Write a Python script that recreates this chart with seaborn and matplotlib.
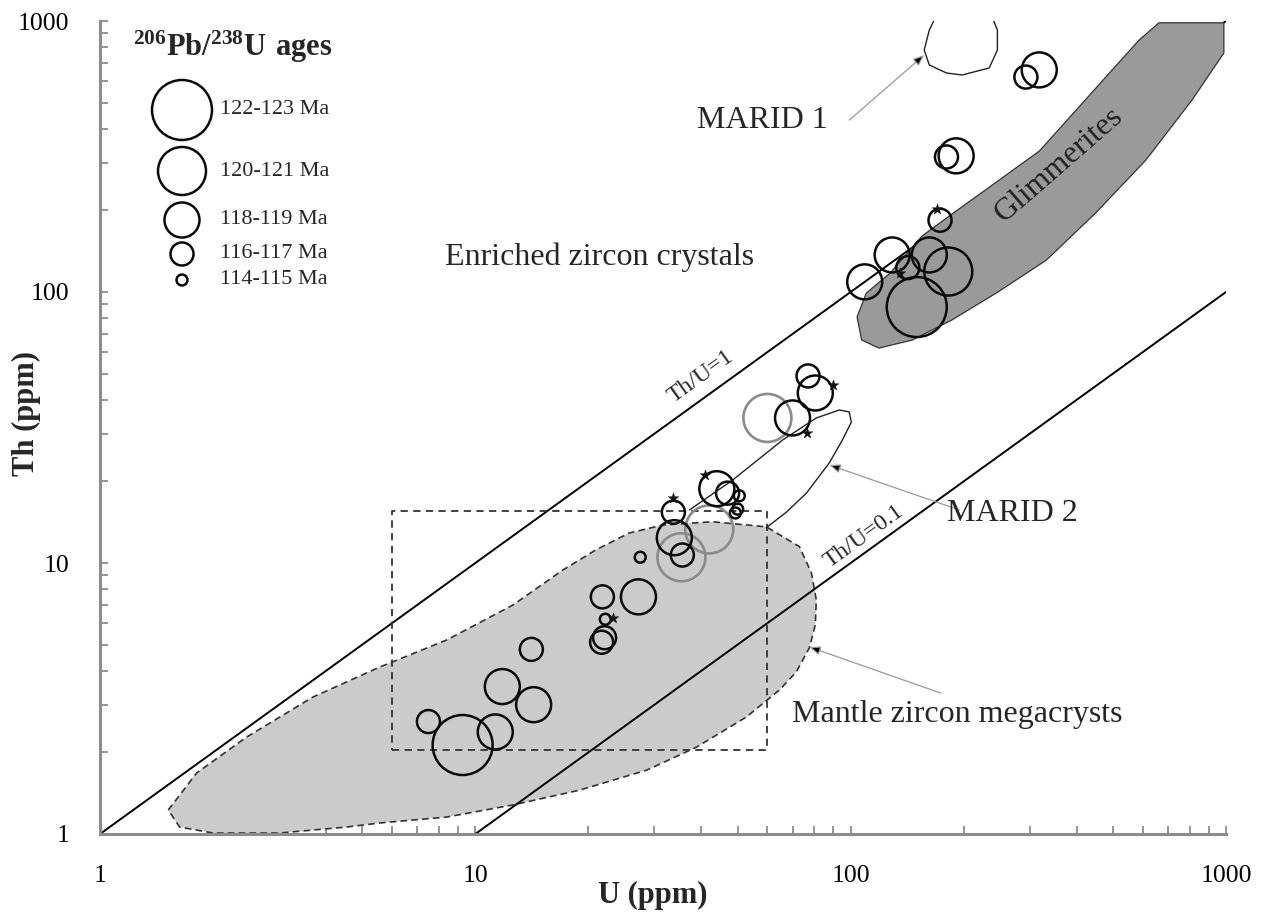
import numpy as np
import pandas as pd
import matplotlib
matplotlib.use("Agg")
import matplotlib.pyplot as plt
import seaborn as sns
from matplotlib.ticker import FixedLocator, FixedFormatter, LogLocator, NullFormatter

# ---------------- data ----------------
age_classes = ["122-123 Ma", "120-121 Ma", "118-119 Ma", "116-117 Ma", "114-115 Ma"]

u_black = [318, 293, 191, 180, 173, 129, 109, 142, 162, 182, 150,
           77, 80.5, 70, 44, 47, 50.5, 50, 49.3, 33.7, 33.9, 35.6, 27.5,
           21.8, 27.2, 22.2, 22.1, 21.7, 14.1, 11.8, 14.3, 7.5, 9.25, 11.3]
th_black = [660, 621, 318, 315, 184, 137, 109, 123, 137, 119, 88,
            49, 42.4, 34.3, 18.8, 18.1, 17.7, 15.8, 15.3, 15.4, 12.4, 10.7, 10.5,
            7.5, 7.5, 6.2, 5.3, 5.1, 4.8, 3.5, 3.0, 2.6, 2.13, 2.38]
age_black = ["118-119 Ma", "116-117 Ma", "118-119 Ma", "116-117 Ma", "116-117 Ma",
             "118-119 Ma", "118-119 Ma", "116-117 Ma", "118-119 Ma", "120-121 Ma",
             "122-123 Ma", "116-117 Ma", "118-119 Ma", "118-119 Ma", "118-119 Ma",
             "116-117 Ma", "114-115 Ma", "114-115 Ma", "114-115 Ma", "116-117 Ma",
             "118-119 Ma", "116-117 Ma", "114-115 Ma", "116-117 Ma", "118-119 Ma",
             "114-115 Ma", "116-117 Ma", "116-117 Ma", "116-117 Ma", "118-119 Ma",
             "118-119 Ma", "116-117 Ma", "122-123 Ma", "118-119 Ma"]

u_grey = [60, 42, 35.4]
th_grey = [34.3, 13.3, 10.5]
age_grey = ["120-121 Ma", "120-121 Ma", "120-121 Ma"]

u_star = [170, 135, 90, 76.6, 40.8, 33.7, 23.2]
th_star = [202, 118, 45.4, 30.2, 21.1, 17.4, 6.27]

glim_u = [663, 987, 987, 812, 612, 450, 332, 244, 186, 146, 119, 107, 104,
          110, 127, 155, 191, 244, 318, 406, 497, 587]
glim_th = [985, 985, 762, 511, 307, 196, 131, 99, 78.8, 66.5, 62.1, 66.5, 80.9,
           99, 117, 161, 199, 254, 331, 482, 659, 851]

mantle_u = [1.52, 1.81, 2.46, 3.69, 5.56, 8.39, 12.6, 17.1, 21.0, 25.7, 31.5, 42.8,
            59.6, 73.0, 78.6, 81.0, 80.5, 77.6, 71.6, 64.6, 52.7, 38.8, 28.6, 18.9,
            12.6, 8.39, 5.56, 4.54, 3.01, 2.0, 1.63]
mantle_th = [1.226, 1.68, 2.28, 3.20, 4.13, 5.20, 7.0, 9.42, 11.2, 12.9, 13.8, 14.2,
             13.6, 11.5, 9.19, 7.30, 5.91, 4.86, 3.96, 3.40, 2.70, 2.09, 1.72, 1.45,
             1.28, 1.155, 1.098, 1.061, 1.0085, 1.0085, 1.061]

marid1_u = [172, 162, 157, 162, 180, 198, 234, 246, 246, 234]
marid1_th = [1099, 926, 782, 688, 643, 632, 671, 782, 926, 1099]

marid2_u = [37.2, 48.4, 65.8, 81.0, 93.3, 99.1, 100.4, 95.0, 87.7, 76.2, 67.4, 59.6]
marid2_th = [15.7, 20.2, 28.4, 34.3, 36.7, 36.1, 33.1, 28.4, 23.4, 18.1, 15.4, 13.5]

box_u = [6.0, 60.0]
box_th = [2.04, 15.5]

thu_ratios = [1.0, 0.1]
thu_u_start = [1.0, 10.0]
thu_u_end = [1000.0, 1000.0]

tick_values = [1, 10, 100, 1000]
tick_labels = ["1", "10", "100", "1000"]

# ---------------- style ----------------
sns.set_theme(style="white")
plt.rcParams["font.family"] = ["Liberation Serif", "DejaVu Serif"]
plt.rcParams["mathtext.fontset"] = "custom"
plt.rcParams["mathtext.rm"] = "Liberation Serif"
plt.rcParams["mathtext.bf"] = "Liberation Serif:bold"

size_map = dict(zip(age_classes, [1866, 1194, 635, 275, 62]))

fig = plt.figure(figsize=(12.61, 9.17), dpi=100)
ax = fig.add_axes([100 / 1261, 1 - 834 / 917, 1126 / 1261, 813 / 917])
ax.set_xscale("log")
ax.set_yscale("log")

# Mantle zircon megacrysts field
ax.fill(mantle_u, mantle_th, fc="#cbcbcb", ec="#333333", lw=1.2,
        ls=(0, (4, 2.5)), zorder=1)

# Th/U reference lines
for r, u0, u1 in zip(thu_ratios, thu_u_start, thu_u_end):
    uu = np.array([u0, u1])
    ax.plot(uu, r * uu, color="black", lw=1.4, zorder=2)

# Glimmerites field
ax.fill(glim_u, glim_th, fc="#9a9a9a", ec="#333333", lw=0.9, zorder=2.5)

# dashed box
ax.plot([box_u[0], box_u[1], box_u[1], box_u[0], box_u[0]],
        [box_th[0], box_th[0], box_th[1], box_th[1], box_th[0]],
        color="#333333", lw=1.3, ls=(0, (4, 3)), zorder=3)

# MARID outlines
ax.plot(marid1_u, marid1_th, color="#222222", lw=1.0, zorder=3)
ax.plot(marid2_u, marid2_th, color="#222222", lw=1.0, zorder=3)

# circles
df_b = pd.DataFrame({"U": u_black, "Th": th_black, "age": age_black})
df_g = pd.DataFrame({"U": u_grey, "Th": th_grey, "age": age_grey})
sns.scatterplot(data=df_g, x="U", y="Th", size="age", sizes=size_map,
                facecolors="none", edgecolor="#8a8a8a", linewidth=1.9,
                legend=False, ax=ax, zorder=4)
sns.scatterplot(data=df_b, x="U", y="Th", size="age", sizes=size_map,
                facecolors="none", edgecolor="#0a0a0a", linewidth=1.8,
                legend=False, ax=ax, zorder=5)
sns.scatterplot(x=u_star, y=th_star, marker="*", s=65, color="#111111",
                edgecolor="#111111", linewidth=0.3, legend=False, ax=ax, zorder=6)

ax.set_xlim(1, 1000)
ax.set_ylim(1, 1000)

# axes styling
for side in ["top", "right"]:
    ax.spines[side].set_visible(False)
for side in ["left", "bottom"]:
    ax.spines[side].set_color("#8c8c8c")
    ax.spines[side].set_linewidth(2.2)
    ax.spines[side].set_zorder(7)

for axis in [ax.xaxis, ax.yaxis]:
    axis.set_major_locator(FixedLocator(tick_values))
    axis.set_major_formatter(FixedFormatter(tick_labels))
    axis.set_minor_locator(LogLocator(base=10, subs=np.arange(2, 10)))
    axis.set_minor_formatter(NullFormatter())
ax.tick_params(which="both", direction="in", color="#8c8c8c", width=1.3,
               length=6, pad=22, labelsize=18.5, labelcolor="black")
ax.tick_params(which="both", bottom=True, left=True, top=False, right=False)

ax.set_xlabel("U (ppm)", fontsize=22, fontweight="bold")
ax.set_ylabel("Th (ppm)", fontsize=22, fontweight="bold")
ax.xaxis.set_label_coords(553 / 1126, -0.058)
ax.yaxis.set_label_coords(-0.052, (834 - 413) / 813)

# annotations
arrow_kw = dict(arrowstyle="-|>,head_length=0.55,head_width=0.22",
                color="#9a9a9a", lw=0.9, shrinkA=0, shrinkB=0)
ax.text(58.2, 428, "MARID 1", fontsize=23, ha="center", va="center", zorder=8)
ax.annotate("", xy=(157, 749), xytext=(99.2, 431),
            arrowprops=dict(arrow_kw, fc="black"), zorder=8)

ax.annotate("", xy=(87.7, 23.0), xytext=(194.5, 15.7),
            arrowprops=dict(arrow_kw, fc="black"), zorder=8)
ax.text(269, 15.2, "MARID 2", fontsize=23, ha="center", va="center", zorder=8)

ax.annotate("", xy=(77.6, 4.90), xytext=(174, 3.31),
            arrowprops=dict(arrow_kw, fc="black"), zorder=8)
ax.text(192, 2.77, "Mantle zircon megacrysts", fontsize=23, ha="center",
        va="center", zorder=8)

ax.text(21.4, 134.6, "Enriched zircon crystals", fontsize=23, ha="center",
        va="center", zorder=8)
ax.text(359, 294, "Glimmerites", fontsize=23, ha="center", va="center",
        rotation=41, color="#222222", zorder=8)
ax.text(40.0, 48.6, "Th/U=1", fontsize=17, ha="center", va="center",
        rotation=35.8, zorder=8)
ax.text(108.7, 12.5, "Th/U=0.1", fontsize=17, ha="center", va="center",
        rotation=35.8, zorder=8)

# age legend (manual)
leg_x = (182 - 100) / 1126
leg_y = [(834 - p) / 813 for p in [110, 171, 220, 254, 280]]
for cls, yy in zip(age_classes, leg_y):
    ax.scatter([leg_x], [yy], s=size_map[cls], facecolors="none",
               edgecolors="#0a0a0a", linewidths=1.8, transform=ax.transAxes,
               zorder=8, clip_on=False)
    ax.text(120 / 1126, yy, cls, fontsize=16, ha="left", va="center",
            transform=ax.transAxes, zorder=8)
ax.text(133 / 1126, (834 - 47) / 813, r"$\mathbf{^{206}Pb/^{238}U\ ages}$",
        fontsize=22, ha="center", va="center", transform=ax.transAxes, zorder=8)

fig.savefig("out.png", dpi=100)
